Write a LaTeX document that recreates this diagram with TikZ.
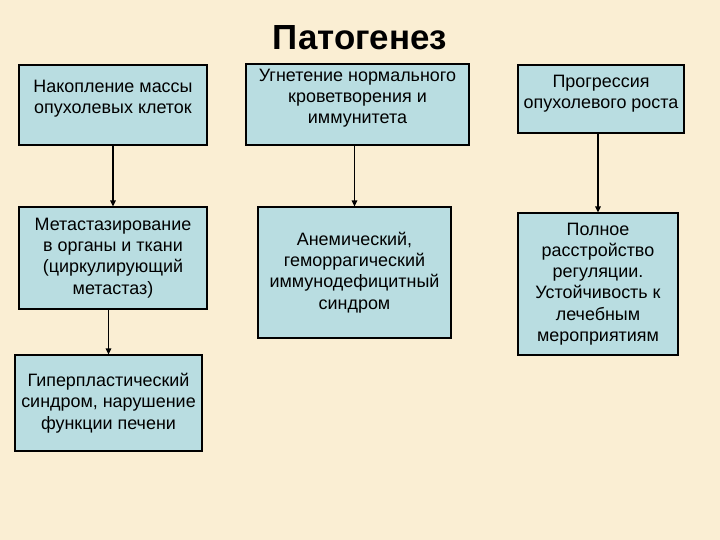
\documentclass[tikz,border=0pt]{standalone}
\usepackage{fontspec}
\setmainfont{Liberation Sans}
\usetikzlibrary{arrows.meta}
\definecolor{parchment}{RGB}{250,238,211}
\definecolor{boxblue}{RGB}{185,221,225}
\tikzset{
  stagebox/.style={draw=black, line width=1.2pt, fill=boxblue, align=center,
    inner sep=0pt, font=\fontsize{18}{21.3}\selectfont},
  parrow/.style={-{Triangle[length=6pt,width=5.5pt]}, line width=1.4pt}
}

\begin{document}
\begin{tikzpicture}[x=1bp, y=-1bp]
    \fill[parchment] (0,0) rectangle (720,540);
    \useasboundingbox (0,0) rectangle (720,540);
    \node[font=\fontsize{35}{40}\selectfont\bfseries] (title) at (360,37.5) {Патогенез};
    % top row
    \node[stagebox, minimum width=188bp, minimum height=80bp, text depth=17bp] (nakop) at (113,105) {Накопление массы\\опухолевых клеток};
    \node[stagebox, minimum width=223bp, minimum height=81bp, text depth=16bp] (ugnet) at (357.5,104.5) {Угнетение нормального\\кроветворения и\\иммунитета};
    \node[stagebox, minimum width=166bp, minimum height=68bp, text depth=15bp] (progr) at (601,99) {Прогрессия\\опухолевого роста};
    % second row
    \node[stagebox, minimum width=188bp, minimum height=102bp] (metast) at (113,258) {Метастазирование\\в органы и ткани\\(циркулирующий\\метастаз)};
    \node[stagebox, minimum width=193bp, minimum height=131bp] (anem) at (354.5,272.5) {Анемический,\\геморрагический\\иммунодефицитный\\синдром};
    \node[stagebox, minimum width=160bp, minimum height=142bp] (rasstr) at (598,284) {Полное\\расстройство\\регуляции.\\Устойчивость к\\лечебным\\мероприятиям};
    % third row
    \node[stagebox, minimum width=187bp, minimum height=96bp] (giper) at (108.5,403) {Гиперпластический\\синдром, нарушение\\функции печени};
    \draw[parrow] (nakop.south) -- (metast.north);
    \draw[parrow] (ugnet.south -| anem.north) -- (anem.north);
    \draw[parrow] (progr.south -| rasstr.north) -- (rasstr.north);
    \draw[parrow] (metast.south -| giper.north) -- (giper.north);
  \end{tikzpicture}
\end{document}
